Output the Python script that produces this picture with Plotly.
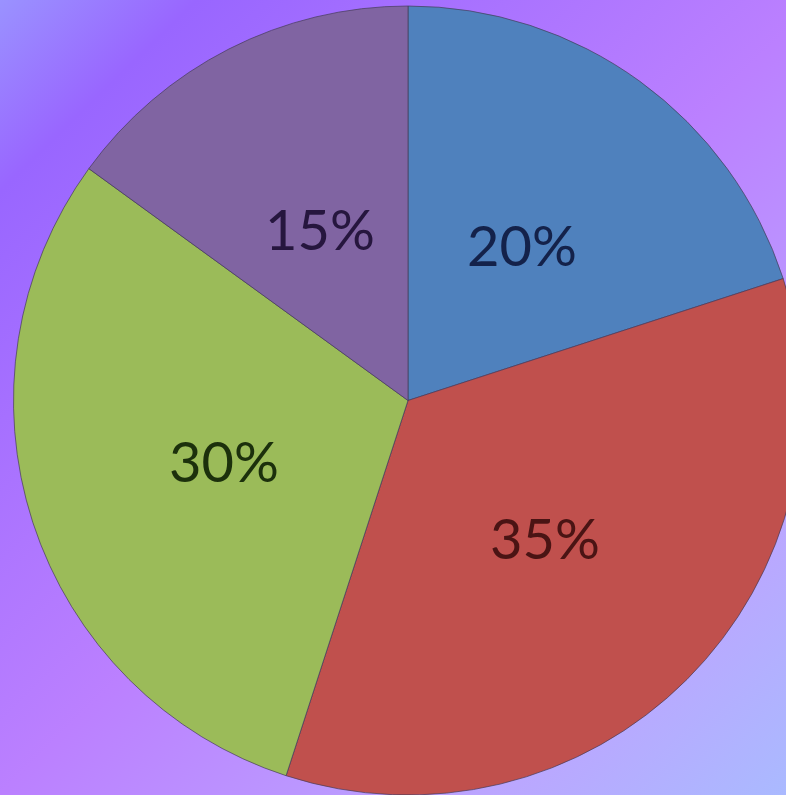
import base64
import math
import plotly.graph_objects as go

# ── データ ──────────────────────────────
labels = ["A", "B", "C", "D"]
values = [20, 35, 30, 15]
slice_colors = ["#4f81bd", "#c0504d", "#9bbb59", "#8064a2"]
text_colors = ["#14224a", "#4a1414", "#1c300c", "#26163e"]

# 背景グラデーション（SVG を data URI で埋め込む）
_svg = """<svg xmlns='http://www.w3.org/2000/svg' width='820' height='795' preserveAspectRatio='none'>
<defs><linearGradient id='g' x1='0' y1='0' x2='1' y2='1'>
<stop offset='0' stop-color='#9a92ff'/>
<stop offset='0.12' stop-color='#9966ff'/>
<stop offset='0.5' stop-color='#bb80ff'/>
<stop offset='0.8' stop-color='#bba6ff'/>
<stop offset='1' stop-color='#a8bcff'/>
</linearGradient></defs>
<rect width='820' height='795' fill='url(#g)'/></svg>"""
bg_uri = "data:image/svg+xml;base64," + base64.b64encode(_svg.encode()).decode()

W, H = 820, 795
dom_x = [13 / W, 803 / W]
dom_y = [0, 789 / H]

fig = go.Figure(
    go.Pie(
        labels=labels,
        values=values,
        sort=False,
        direction="clockwise",
        rotation=0,
        marker=dict(colors=slice_colors, line=dict(color="rgba(70,60,90,0.7)", width=1)),
        textinfo="none",
        showlegend=False,
        hoverinfo="skip",
        domain=dict(x=dom_x, y=dom_y),
    )
)

# ラベルは Excel 風に半径の中ほどへ（値から角度を算出）
cx = (dom_x[0] + dom_x[1]) / 2 * W
cy = (dom_y[0] + dom_y[1]) / 2 * H
R = min((dom_x[1] - dom_x[0]) * W, (dom_y[1] - dom_y[0]) * H) / 2
total = sum(values)
cum = 0
for v, tc in zip(values, text_colors):
    mid = (cum + v / 2) / total * 2 * math.pi
    cum += v
    r = R * 0.49
    px_ = cx + r * math.sin(mid)
    py_ = cy + r * math.cos(mid)
    fig.add_annotation(
        x=px_ / W, y=py_ / H, xref="paper", yref="paper",
        xanchor="center", yanchor="middle",
        text=f"{v / total:.0%}", showarrow=False,
        font=dict(family="Lato, 'Open Sans', sans-serif", size=56, color=tc),
    )

fig.update_layout(
    width=W,
    height=H,
    margin=dict(l=0, r=0, t=0, b=0),
    paper_bgcolor="#b080ff",
    plot_bgcolor="rgba(0,0,0,0)",
    images=[dict(
        source=bg_uri, xref="paper", yref="paper", x=0, y=1,
        sizex=1, sizey=1, sizing="stretch", layer="below",
        xanchor="left", yanchor="top",
    )],
)

fig.write_html(
    "out.html",
    config={"displayModeBar": False},
    post_script="document.body.style.margin='0';document.body.style.overflow='hidden';"
    "document.documentElement.style.overflow='hidden';",
)
